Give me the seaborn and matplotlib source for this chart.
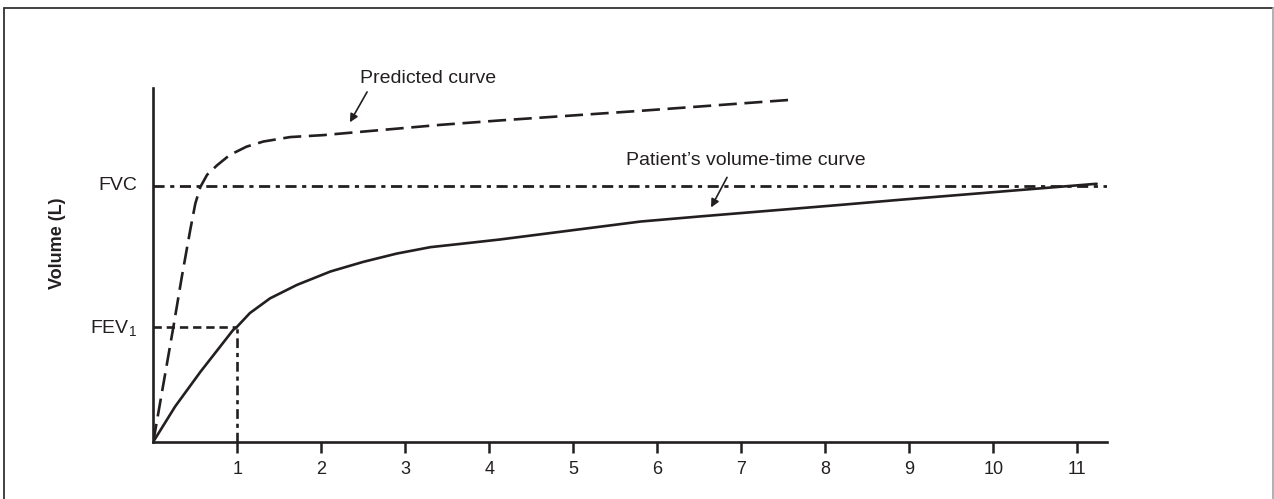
import seaborn as sns
import matplotlib.pyplot as plt
from matplotlib.lines import Line2D

# values (time in s, volume in L)
time_pred = [0, 0.24, 0.34, 0.44, 0.50, 0.56, 0.64, 0.76, 0.91, 1.11, 1.31, 1.63, 2.02,
             2.54, 3.41, 4.13, 5.80, 7.57]
vol_pred = [0, 1.80, 2.58, 3.31, 3.72, 3.98, 4.17, 4.32, 4.48, 4.61, 4.69, 4.76, 4.79,
            4.85, 4.95, 5.02, 5.17, 5.34]

time_pat = [0, 0.26, 0.56, 0.95, 1.0, 1.15, 1.39, 1.71, 2.11, 2.50, 2.90, 3.30, 3.65,
            4.13, 5.80, 6.51, 8.18, 8.89, 11.23]
vol_pat = [0, 0.55, 1.09, 1.745, 1.80, 2.01, 2.24, 2.45, 2.66, 2.81, 2.94, 3.04, 3.09,
           3.16, 3.44, 3.52, 3.70, 3.78, 4.03]

FVC = 4.0
FEV1 = 1.8
FEV1_TIME = 1
xticks = list(range(1, 12))

ink = "#231f20"

sns.set_style("white")
plt.rcParams["font.family"] = ["Liberation Sans Narrow", "Liberation Sans", "DejaVu Sans"]
plt.rcParams["mathtext.fontset"] = "custom"
plt.rcParams["mathtext.rm"] = "Liberation Sans"
plt.rcParams["lines.scale_dashes"] = False
plt.rcParams["lines.solid_joinstyle"] = "round"

fig = plt.figure(figsize=(12.74, 4.99), dpi=100)
ax = fig.add_axes([153.3 / 1274, (499 - 441.7) / 499, (1107 - 153.3) / 1274, (441.7 - 88) / 499])

# reference lines for FVC and FEV1
ax.axhline(FVC, color=ink, lw=2.0, linestyle=(0, (8, 4, 3, 4)), zorder=1)
ax.hlines(FEV1, 0, FEV1_TIME, color=ink, lw=1.9, linestyle=(0, (6, 3.5)), zorder=1)
ax.vlines(FEV1_TIME, 0, FEV1, color=ink, lw=1.9, linestyle=(0, (7, 3.5, 3, 3.5)), zorder=1)

sns.lineplot(x=time_pred, y=vol_pred, ax=ax, color=ink, lw=1.9,
             linestyle=(0, (13, 5.5)), zorder=3)
sns.lineplot(x=time_pat, y=vol_pat, ax=ax, color=ink, lw=1.9, zorder=3)

ax.set_xlim(0, (1107 - 153.3) / 84)
ax.set_ylim(0, (441.7 - 88) / 64)

for side in ["top", "right"]:
    ax.spines[side].set_visible(False)
for side in ["left", "bottom"]:
    ax.spines[side].set_color(ink)
    ax.spines[side].set_linewidth(1.9)

ax.set_xticks(xticks)
ax.set_xticklabels([str(t) for t in xticks])
ax.set_yticks([])
ax.tick_params(axis="x", direction="out", length=8, width=1.8, color=ink,
               labelsize=13, labelcolor=ink, pad=6, bottom=True)

ax.annotate("FVC", xy=(0, FVC), xytext=(-11.5, 0), textcoords="offset points",
            ha="right", va="center", fontsize=14, color=ink)
ax.annotate(r"FEV$_\mathrm{1}$", xy=(0, FEV1), xytext=(-11.5, -2), textcoords="offset points",
            ha="right", va="center", fontsize=14, color=ink)

fig.text(57 / 1274, 1 - 243 / 499, "Volume (L)", rotation=90, ha="center", va="center",
         fontsize=13, fontweight="bold", color=ink)

# curve labels with arrows
ax.text(3.27, 5.68, "Predicted curve", ha="center", va="center", fontsize=14, color=ink,
        clip_on=False)
ax.annotate("", xy=(2.34, 4.99), xytext=(2.545, 5.465),
            arrowprops=dict(arrowstyle="-|>", color=ink, lw=1.2, mutation_scale=12,
                            shrinkA=0, shrinkB=0))
ax.text(7.05, 4.40, "Patient\u2019s volume-time curve", ha="center", va="center",
        fontsize=14, color=ink)
ax.annotate("", xy=(6.64, 3.66), xytext=(6.83, 4.13),
            arrowprops=dict(arrowstyle="-|>", color=ink, lw=1.2, mutation_scale=12,
                            shrinkA=0, shrinkB=0))

# outer frame
fig.add_artist(Line2D([3.5 / 1274, 3.5 / 1274], [0, 1 - 7.5 / 499], transform=fig.transFigure,
                      color="#333333", lw=1.3))
fig.add_artist(Line2D([3.5 / 1274, 1272.5 / 1274], [1 - 7.5 / 499, 1 - 7.5 / 499],
                      transform=fig.transFigure, color="#333333", lw=1.3))
fig.add_artist(Line2D([1272.5 / 1274, 1272.5 / 1274], [0, 1 - 7.5 / 499], transform=fig.transFigure,
                      color="#aaaaaa", lw=1.3))

fig.savefig("out.png", dpi=100)
